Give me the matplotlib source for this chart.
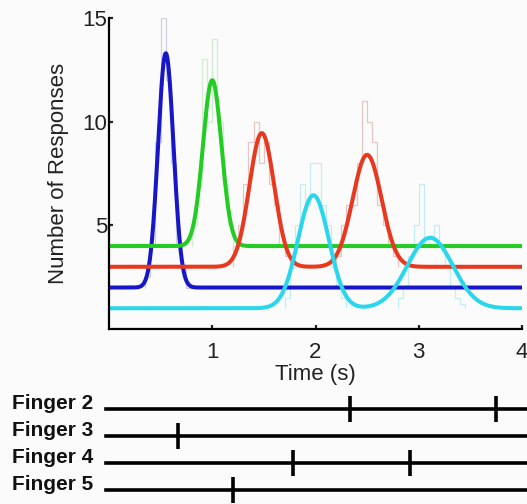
import numpy as np
import matplotlib.pyplot as plt

plt.rcParams['font.family'] = ['Liberation Sans', 'DejaVu Sans']

# fitted peaks: (centre s, peak height, width s) per finger, plus flat baseline
colores = ['#1717c8', '#22cc22', '#e8381e', '#2ad6ec']
tenues = ['#cfcfe2', '#d2ecd2', '#e6c6c2', '#c4ecf4']
bases = [2, 4, 3, 1]
centros = [[0.55], [1.00], [1.48, 2.50], [1.98, 3.11]]
alturas = [[13.3], [12.0], [9.45, 8.4], [6.45, 4.4]]
anchos = [[0.075], [0.09], [0.12, 0.14], [0.15, 0.22]]

# histogramas crudos (bins de 0.05 s)
hist_inicio = [0.35, 0.80, 1.20, 1.70, 2.20, 2.80]
hist_serie = [0, 1, 2, 3, 2, 3]
hist_valores = [
    [2.5, 4, 9, 15, 12, 8, 4, 3, 2],
    [5, 7, 13, 10, 14, 10, 7, 5, 4],
    [4, 5, 7, 9, 10, 8, 9, 7, 6, 4, 3.5, 3],
    [1.5, 3, 5, 7, 6, 8, 8, 6, 5, 3, 2, 1.5],
    [3.5, 5, 6, 6, 8, 11, 10, 9, 6, 5, 4, 3.5],
    [1.5, 2, 3.5, 5, 7, 4, 4.5, 5, 4, 3, 2, 1.5, 1.2],
]

dedos = ['Finger 2', 'Finger 3', 'Finger 4', 'Finger 5']
pulsaciones = [[2.33, 3.75], [0.67], [1.78, 2.91], [1.20]]

fig = plt.figure(figsize=(5.27, 5.04), dpi=100)
fig.patch.set_facecolor('#fbfbfb')

ax = fig.add_axes([109/527, 1 - 329/504, 413/527, 311/504])
ax.set_facecolor('#fbfbfb')

for ini, s, vals in zip(hist_inicio, hist_serie, hist_valores):
    bordes = ini + 0.05 * np.arange(len(vals) + 1)
    ax.stairs(vals, bordes, baseline=bases[s], color=tenues[s], lw=0.9)

t = np.linspace(0, 4, 1200)
for c, b, mus, hs, ss in zip(colores, bases, centros, alturas, anchos):
    y = np.full_like(t, b, dtype=float)
    for mu, h, s in zip(mus, hs, ss):
        y += (h - b) * np.exp(-0.5 * ((t - mu) / s) ** 2)
    ax.plot(t, y, color=c, lw=2.9, solid_capstyle='butt')

ax.set_xlim(0, 4)
ax.set_ylim(0, 15)
ax.set_xticks([1, 2, 3, 4])
ax.set_yticks([5, 10, 15])
ax.spines['top'].set_visible(False)
ax.spines['right'].set_visible(False)
for sp in ['left', 'bottom']:
    ax.spines[sp].set_linewidth(1.6)
ax.tick_params(direction='in', length=3, width=1.6, labelsize=16, colors='#222222')
ax.tick_params(axis='y', pad=1)
ax.tick_params(axis='x', pad=9)
ax.set_xlabel('Time (s)', fontsize=16, labelpad=1, color='#222222')
ax.set_ylabel('Number of Responses', fontsize=16, labelpad=10, color='#222222')

# eventos de dedos
ax2 = fig.add_axes([109/527, 0, 418/527, 109/504])
ax2.set_xlim(0, 418/103.3)
ax2.set_ylim(0.48, 4.52)
ax2.axis('off')
for i, (nombre, tiempos) in enumerate(zip(dedos, pulsaciones)):
    yy = 4 - i
    ax2.plot([-0.03, 418/103.3], [yy, yy], color='black', lw=2.6, clip_on=False)
    ax2.vlines(tiempos, yy - 0.48, yy + 0.48, color='black', lw=2.6, clip_on=False)
    fig.text(12/527, ax2.transData.transform((0, yy + 0.22))[1] / fig.bbox.height,
             nombre, fontsize=15, fontweight='bold', va='center', ha='left', color='#111111')

fig.savefig('out.png', dpi=100, facecolor=fig.get_facecolor())
